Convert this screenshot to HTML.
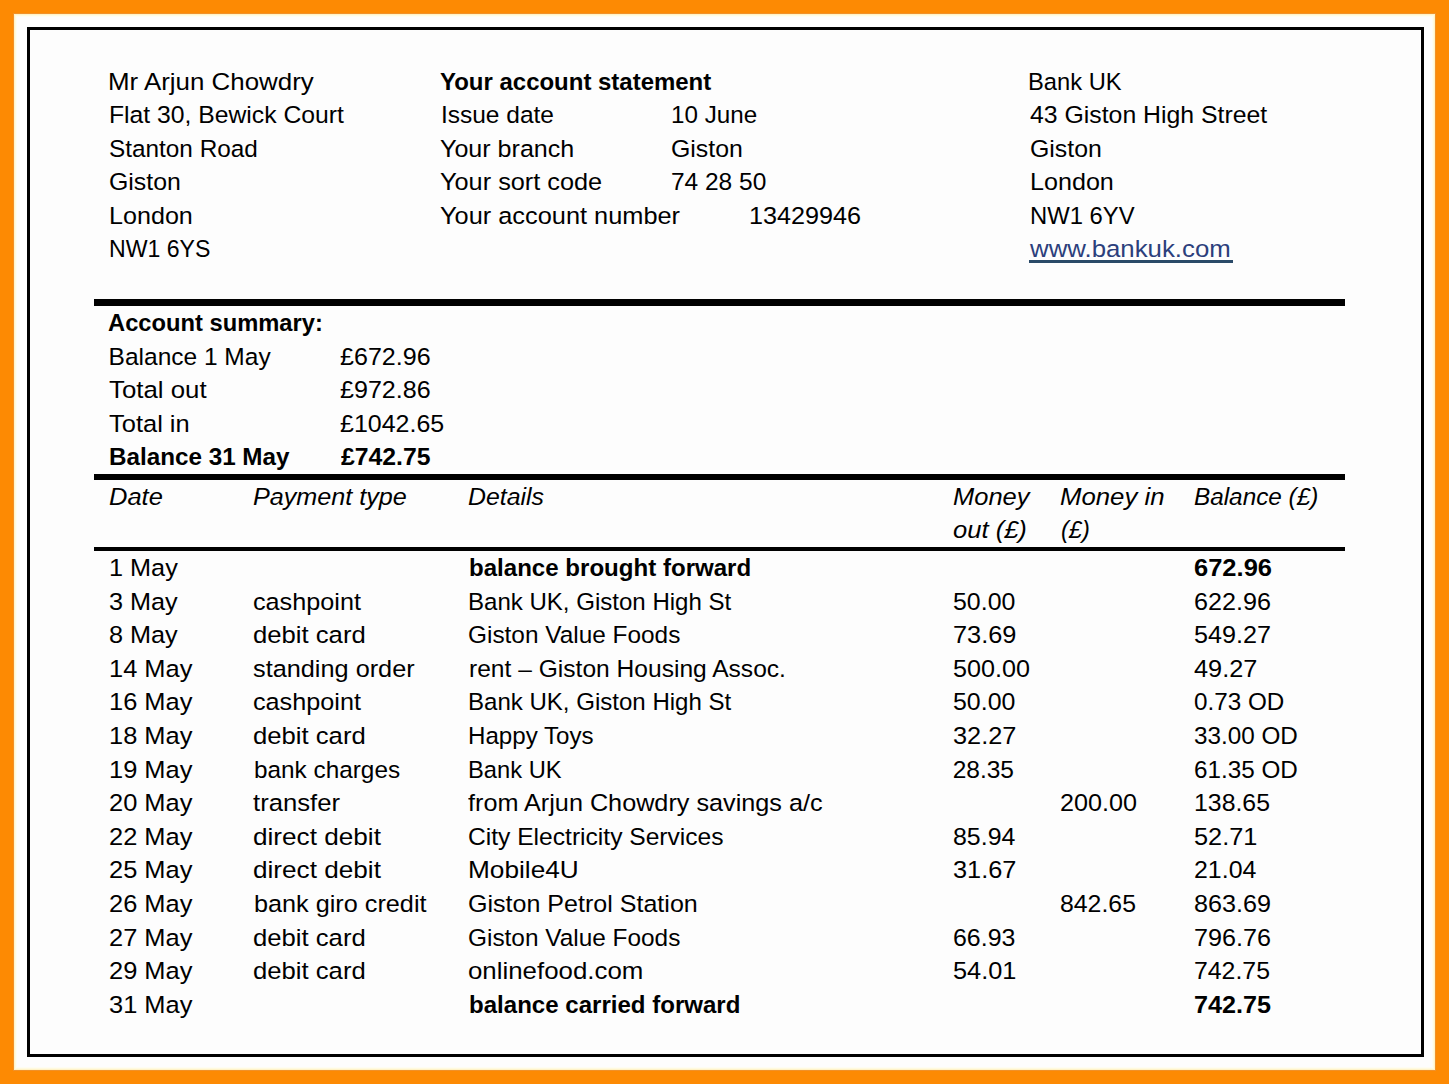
<!DOCTYPE html><html><head><meta charset="utf-8"><style>*{margin:0;padding:0}
html,body{width:1449px;height:1084px;overflow:hidden;background:#fd8a03}
#pg{position:absolute;left:14px;top:14px;width:1421px;height:1056px;background:#fdfdfd;box-shadow:0 0 0 1px #f0912a, inset 0 0 0 1px #fff3c8, inset 0 0 0 2px #fffae0, inset 0 0 0 3px #fefdf2}
#fr{position:absolute;left:27px;top:27px;width:1391px;height:1024px;border:3px solid #000}
.hl{position:absolute;left:94px;width:1251px;background:#000}
.t{position:absolute;white-space:pre;color:#000;transform-origin:0 0;line-height:normal}
.b{font-weight:bold} .i{font-style:italic}
.lk{color:#2c3f7c}

.t{font-family:"Liberation Sans",sans-serif;font-size:24.5px}
</style></head><body>
<div id="pg"></div><div id="fr"></div>
<div class="hl" style="top:299px;height:7px"></div>
<div class="hl" style="top:474px;height:6px"></div>
<div class="hl" style="top:547px;height:4px"></div>
<div style="position:absolute;left:1029px;top:260px;width:204px;height:3px;background:#2a4a68"></div>
<div class="t" style="left:108.49px;top:68.00px;transform:scaleX(1.0570);">Mr Arjun Chowdry</div>
<div class="t" style="left:108.58px;top:101.40px;transform:scaleX(1.0087);">Flat 30, Bewick Court</div>
<div class="t" style="left:108.61px;top:134.80px;transform:scaleX(0.9932);">Stanton Road</div>
<div class="t" style="left:108.59px;top:168.20px;transform:scaleX(1.0145);">Giston</div>
<div class="t" style="left:108.55px;top:201.60px;transform:scaleX(1.0253);">London</div>
<div class="t" style="left:108.71px;top:235.00px;transform:scaleX(0.9429);">NW1 6YS</div>
<div class="t b" style="left:439.92px;top:68.00px;transform:scaleX(0.9783);">Your account statement</div>
<div class="t" style="left:440.90px;top:101.40px;">Issue date</div>
<div class="t" style="left:670.92px;top:101.40px;transform:scaleX(0.9881);">10 June</div>
<div class="t" style="left:439.88px;top:134.80px;transform:scaleX(1.0233);">Your branch</div>
<div class="t" style="left:670.89px;top:134.80px;transform:scaleX(1.0145);">Giston</div>
<div class="t" style="left:439.87px;top:168.20px;transform:scaleX(1.0323);">Your sort code</div>
<div class="t" style="left:670.90px;top:168.20px;">74 28 50</div>
<div class="t" style="left:439.87px;top:201.60px;transform:scaleX(1.0346);">Your account number</div>
<div class="t" style="left:748.94px;top:201.60px;transform:scaleX(1.0283);">13429946</div>
<div class="t" style="left:1027.76px;top:68.00px;transform:scaleX(0.9681);">Bank UK</div>
<div class="t" style="left:1029.70px;top:101.40px;transform:scaleX(1.0128);">43 Giston High Street</div>
<div class="t" style="left:1029.69px;top:134.80px;transform:scaleX(1.0145);">Giston</div>
<div class="t" style="left:1029.65px;top:168.20px;transform:scaleX(1.0253);">London</div>
<div class="t" style="left:1029.76px;top:201.60px;transform:scaleX(0.9717);">NW1 6YV</div>
<div class="t lk" style="left:1029.70px;top:235.00px;transform:scaleX(1.0529);">www.bankuk.com</div>
<div class="t b" style="left:107.63px;top:309.00px;transform:scaleX(0.9680);">Account summary:</div>
<div class="t" style="left:108.60px;top:342.50px;">Balance 1 May</div>
<div class="t" style="left:339.78px;top:342.50px;transform:scaleX(1.0230);">£672.96</div>
<div class="t" style="left:108.60px;top:376.00px;transform:scaleX(1.0538);">Total out</div>
<div class="t" style="left:339.78px;top:376.00px;transform:scaleX(1.0230);">£972.86</div>
<div class="t" style="left:108.60px;top:409.50px;transform:scaleX(1.0395);">Total in</div>
<div class="t" style="left:339.78px;top:409.50px;transform:scaleX(1.0200);">£1042.65</div>
<div class="t b" style="left:108.61px;top:443.00px;transform:scaleX(0.9890);">Balance 31 May</div>
<div class="t b" style="left:340.80px;top:443.00px;transform:scaleX(1.0114);">£742.75</div>
<div class="t i" style="left:108.56px;top:482.70px;transform:scaleX(1.0400);">Date</div>
<div class="t i" style="left:252.77px;top:482.70px;transform:scaleX(1.0270);">Payment type</div>
<div class="t i" style="left:468.19px;top:482.70px;transform:scaleX(1.0135);">Details</div>
<div class="t i" style="left:952.61px;top:482.70px;transform:scaleX(1.0405);">Money</div>
<div class="t i" style="left:952.61px;top:516.30px;transform:scaleX(1.0435);">out (£)</div>
<div class="t i" style="left:1059.85px;top:482.70px;transform:scaleX(1.0515);">Money in</div>
<div class="t i" style="left:1060.94px;top:516.30px;transform:scaleX(0.9643);">(£)</div>
<div class="t i" style="left:1194.31px;top:482.70px;transform:scaleX(0.9919);">Balance (£)</div>
<div class="t" style="left:108.54px;top:554.00px;transform:scaleX(1.0308);">1 May</div>
<div class="t b" style="left:469.22px;top:554.00px;transform:scaleX(0.9825);">balance brought forward</div>
<div class="t b" style="left:1194.26px;top:554.00px;transform:scaleX(1.0411);">672.96</div>
<div class="t" style="left:108.57px;top:587.60px;transform:scaleX(1.0303);">3 May</div>
<div class="t" style="left:252.77px;top:587.60px;transform:scaleX(1.0288);">cashpoint</div>
<div class="t" style="left:468.24px;top:587.60px;transform:scaleX(0.9812);">Bank UK, Giston High St</div>
<div class="t" style="left:952.63px;top:587.60px;transform:scaleX(1.0167);">50.00</div>
<div class="t" style="left:1194.27px;top:587.60px;transform:scaleX(1.0274);">622.96</div>
<div class="t" style="left:108.57px;top:621.20px;transform:scaleX(1.0303);">8 May</div>
<div class="t" style="left:252.75px;top:621.20px;transform:scaleX(1.0476);">debit card</div>
<div class="t" style="left:468.20px;top:621.20px;transform:scaleX(0.9953);">Giston Value Foods</div>
<div class="t" style="left:952.62px;top:621.20px;transform:scaleX(1.0339);">73.69</div>
<div class="t" style="left:1194.27px;top:621.20px;transform:scaleX(1.0274);">549.27</div>
<div class="t" style="left:108.52px;top:654.80px;transform:scaleX(1.0385);">14 May</div>
<div class="t" style="left:252.77px;top:654.80px;transform:scaleX(1.0321);">standing order</div>
<div class="t" style="left:469.20px;top:654.80px;transform:scaleX(1.0032);">rent – Giston Housing Assoc.</div>
<div class="t" style="left:952.62px;top:654.80px;transform:scaleX(1.0274);">500.00</div>
<div class="t" style="left:1194.30px;top:654.80px;transform:scaleX(1.0333);">49.27</div>
<div class="t" style="left:108.52px;top:688.40px;transform:scaleX(1.0385);">16 May</div>
<div class="t" style="left:252.77px;top:688.40px;transform:scaleX(1.0288);">cashpoint</div>
<div class="t" style="left:468.24px;top:688.40px;transform:scaleX(0.9812);">Bank UK, Giston High St</div>
<div class="t" style="left:952.63px;top:688.40px;transform:scaleX(1.0167);">50.00</div>
<div class="t" style="left:1194.31px;top:688.40px;transform:scaleX(0.9888);">0.73 OD</div>
<div class="t" style="left:108.52px;top:722.00px;transform:scaleX(1.0385);">18 May</div>
<div class="t" style="left:252.75px;top:722.00px;transform:scaleX(1.0476);">debit card</div>
<div class="t" style="left:468.23px;top:722.00px;transform:scaleX(0.9840);">Happy Toys</div>
<div class="t" style="left:952.62px;top:722.00px;transform:scaleX(1.0339);">32.27</div>
<div class="t" style="left:1194.31px;top:722.00px;transform:scaleX(0.9903);">33.00 OD</div>
<div class="t" style="left:108.52px;top:755.60px;transform:scaleX(1.0385);">19 May</div>
<div class="t" style="left:253.81px;top:755.60px;transform:scaleX(0.9931);">bank charges</div>
<div class="t" style="left:468.26px;top:755.60px;transform:scaleX(0.9681);">Bank UK</div>
<div class="t" style="left:952.65px;top:755.60px;">28.35</div>
<div class="t" style="left:1194.31px;top:755.60px;transform:scaleX(0.9903);">61.35 OD</div>
<div class="t" style="left:108.56px;top:789.20px;transform:scaleX(1.0380);">20 May</div>
<div class="t" style="left:252.80px;top:789.20px;transform:scaleX(1.0482);">transfer</div>
<div class="t" style="left:468.20px;top:789.20px;transform:scaleX(1.0291);">from Arjun Chowdry savings a/c</div>
<div class="t" style="left:1059.87px;top:789.20px;transform:scaleX(1.0274);">200.00</div>
<div class="t" style="left:1194.27px;top:789.20px;transform:scaleX(1.0139);">138.65</div>
<div class="t" style="left:108.56px;top:822.80px;transform:scaleX(1.0380);">22 May</div>
<div class="t" style="left:252.73px;top:822.80px;transform:scaleX(1.0672);">direct debit</div>
<div class="t" style="left:468.20px;top:822.80px;transform:scaleX(1.0040);">City Electricity Services</div>
<div class="t" style="left:952.63px;top:822.80px;transform:scaleX(1.0167);">85.94</div>
<div class="t" style="left:1194.27px;top:822.80px;transform:scaleX(1.0339);">52.71</div>
<div class="t" style="left:108.56px;top:856.40px;transform:scaleX(1.0380);">25 May</div>
<div class="t" style="left:252.73px;top:856.40px;transform:scaleX(1.0672);">direct debit</div>
<div class="t" style="left:468.06px;top:856.40px;transform:scaleX(1.0700);">Mobile4U</div>
<div class="t" style="left:952.62px;top:856.40px;transform:scaleX(1.0339);">31.67</div>
<div class="t" style="left:1194.28px;top:856.40px;transform:scaleX(1.0167);">21.04</div>
<div class="t" style="left:108.56px;top:890.00px;transform:scaleX(1.0380);">26 May</div>
<div class="t" style="left:253.77px;top:890.00px;transform:scaleX(1.0299);">bank giro credit</div>
<div class="t" style="left:468.18px;top:890.00px;transform:scaleX(1.0225);">Giston Petrol Station</div>
<div class="t" style="left:1059.89px;top:890.00px;transform:scaleX(1.0137);">842.65</div>
<div class="t" style="left:1194.27px;top:890.00px;transform:scaleX(1.0274);">863.69</div>
<div class="t" style="left:108.56px;top:923.60px;transform:scaleX(1.0380);">27 May</div>
<div class="t" style="left:252.75px;top:923.60px;transform:scaleX(1.0476);">debit card</div>
<div class="t" style="left:468.20px;top:923.60px;transform:scaleX(0.9953);">Giston Value Foods</div>
<div class="t" style="left:952.63px;top:923.60px;transform:scaleX(1.0167);">66.93</div>
<div class="t" style="left:1194.27px;top:923.60px;transform:scaleX(1.0274);">796.76</div>
<div class="t" style="left:108.56px;top:957.20px;transform:scaleX(1.0380);">29 May</div>
<div class="t" style="left:252.75px;top:957.20px;transform:scaleX(1.0476);">debit card</div>
<div class="t" style="left:468.15px;top:957.20px;transform:scaleX(1.0549);">onlinefood.com</div>
<div class="t" style="left:952.62px;top:957.20px;transform:scaleX(1.0339);">54.01</div>
<div class="t" style="left:1194.29px;top:957.20px;transform:scaleX(1.0137);">742.75</div>
<div class="t" style="left:108.56px;top:990.80px;transform:scaleX(1.0380);">31 May</div>
<div class="t b" style="left:469.22px;top:990.80px;transform:scaleX(0.9818);">balance carried forward</div>
<div class="t b" style="left:1194.27px;top:990.80px;transform:scaleX(1.0274);">742.75</div>
</body></html>
